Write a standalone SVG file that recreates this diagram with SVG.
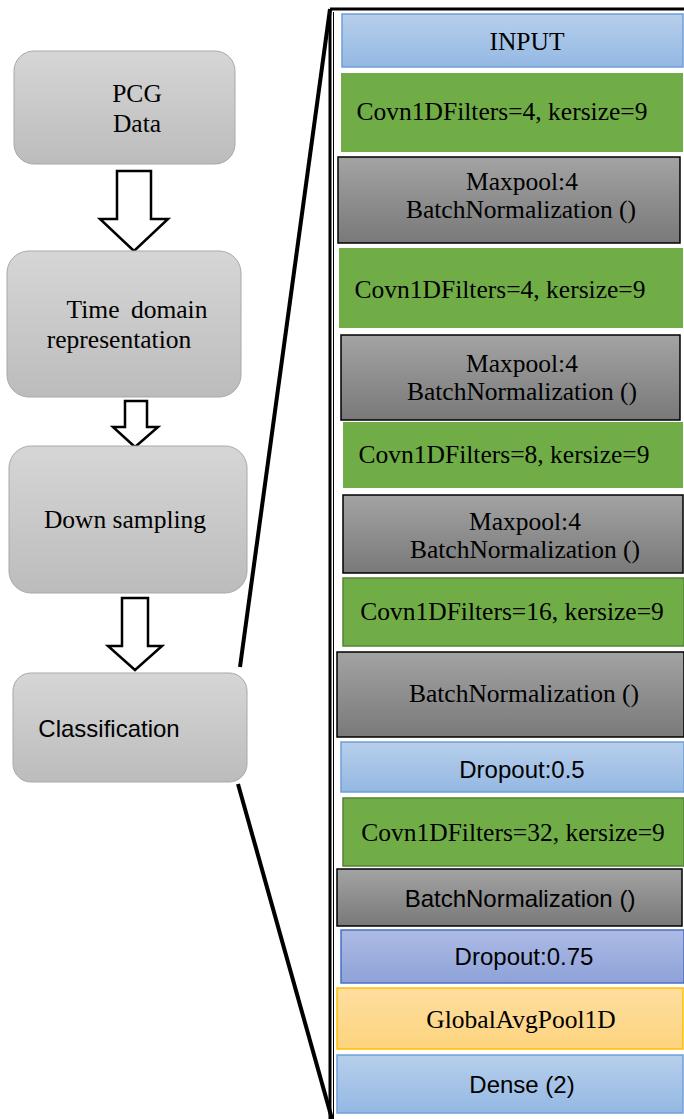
<svg xmlns="http://www.w3.org/2000/svg" width="684" height="1119" viewBox="0 0 684 1119">
<defs>
<linearGradient id="gGray" x1="0" y1="0" x2="0" y2="1"><stop offset="0" stop-color="#d6d6d6"/><stop offset="1" stop-color="#bcbcbc"/></linearGradient>
<linearGradient id="gDark" x1="0" y1="0" x2="0" y2="1"><stop offset="0" stop-color="#a3a3a3"/><stop offset="1" stop-color="#797979"/></linearGradient>
<linearGradient id="gBlue" x1="0" y1="0" x2="0" y2="1"><stop offset="0" stop-color="#b7cfeb"/><stop offset="1" stop-color="#94b8e3"/></linearGradient>
<linearGradient id="gViolet" x1="0" y1="0" x2="0" y2="1"><stop offset="0" stop-color="#adbbe5"/><stop offset="1" stop-color="#8ea2d8"/></linearGradient>
<linearGradient id="gOrange" x1="0" y1="0" x2="0" y2="1"><stop offset="0" stop-color="#fedea0"/><stop offset="1" stop-color="#fdd47e"/></linearGradient>
</defs>
<style>
.lnode{fill:url(#gGray);stroke:#a8a8a8;stroke-width:1}
.arrow{fill:#ffffff;stroke:#000000;stroke-width:2.5;stroke-linejoin:miter}
.serif{font-family:"Liberation Serif","Times New Roman",serif;font-size:25.5px;fill:#000}
.sans{font-family:"Liberation Sans",Arial,sans-serif;font-size:24px;fill:#000}
.green{fill:#70ad47}
.green2{fill:#70ad47;stroke:#548235;stroke-width:1.5}
.gray{fill:url(#gDark);stroke:#000;stroke-width:1.5}
.blue{fill:url(#gBlue);stroke:#6f9fd8;stroke-width:1.5}
.violet{fill:url(#gViolet);stroke:#4472c4;stroke-width:1.5}
.orange{fill:url(#gOrange);stroke:#ffc000;stroke-width:1.5}
.frame{stroke:#000;fill:none}
.c{text-anchor:middle}
</style>
<rect width="684" height="1119" fill="#ffffff"/>

<g id="connectors">
<polygon class="arrow" points="117,171 151,171 151,219 168,219 134,251 100,219 117,219"/>
<polygon class="arrow" points="125,401 147,401 147,427 158,427 135,447 113,427 125,427"/>
<polygon class="arrow" points="122,598 148,598 148,646 162,646 135,670 108,646 122,646"/>
<line class="frame" x1="240" y1="667" x2="330" y2="9" stroke-width="4"/>
<line class="frame" x1="238" y1="784" x2="332" y2="1119" stroke-width="4"/>
<line class="frame" x1="330" y1="9" x2="684" y2="9" stroke-width="3"/>
<line class="frame" x1="330" y1="9" x2="330" y2="1119" stroke-width="3"/>
<line class="frame" x1="333.5" y1="12" x2="333.5" y2="1119" stroke-width="1"/>
</g>

<g id="n-pcg">
<rect class="lnode" x="14" y="51" width="221" height="113" rx="20"/>
<text class="serif c" x="137" y="102">PCG</text>
<text class="serif c" x="137" y="132">Data</text>
</g>
<g id="n-time">
<rect class="lnode" x="7" y="251" width="234" height="146" rx="22"/>
<text class="serif c" x="137" y="318" word-spacing="5">Time domain</text>
<text class="serif c" x="119" y="348">representation</text>
</g>
<g id="n-down">
<rect class="lnode" x="9" y="446" width="238" height="147" rx="22"/>
<text class="serif c" x="125" y="528">Down sampling</text>
</g>
<g id="n-class">
<rect class="lnode" x="13" y="673" width="234" height="109" rx="18"/>
<text class="sans c" x="109" y="737">Classification</text>
</g>

<g id="l-input">
<rect class="blue" x="342" y="14" width="341" height="53"/>
<text class="serif c" x="527" y="50">INPUT</text>
</g>
<g id="l-conv1">
<rect class="green" x="341" y="73" width="342" height="79"/>
<text class="serif c" x="502" y="120">Covn1DFilters=4, kersize=9</text>
</g>
<g id="l-pool1">
<rect class="gray" x="338" y="157" width="342" height="86"/>
<text class="serif c" x="522" y="190">Maxpool:4</text>
<text class="serif c" x="521" y="218">BatchNormalization ()</text>
</g>
<g id="l-conv2">
<rect class="green" x="339" y="248" width="344" height="80"/>
<text class="serif c" x="500" y="298">Covn1DFilters=4, kersize=9</text>
</g>
<g id="l-pool2">
<rect class="gray" x="341" y="335" width="339" height="85"/>
<text class="serif c" x="522" y="372">Maxpool:4</text>
<text class="serif c" x="522" y="400">BatchNormalization ()</text>
</g>
<g id="l-conv3">
<rect class="green" x="343" y="422" width="340" height="66"/>
<text class="serif c" x="504" y="463">Covn1DFilters=8, kersize=9</text>
</g>
<g id="l-pool3">
<rect class="gray" x="343" y="495" width="340" height="78"/>
<text class="serif c" x="525" y="530">Maxpool:4</text>
<text class="serif c" x="525" y="558">BatchNormalization ()</text>
</g>
<g id="l-conv4">
<rect class="green2" x="343" y="578" width="341" height="68"/>
<text class="serif c" x="512" y="620">Covn1DFilters=16, kersize=9</text>
</g>
<g id="l-bn1">
<rect class="gray" x="337" y="652" width="347" height="85"/>
<text class="serif c" x="524" y="702">BatchNormalization ()</text>
</g>
<g id="l-drop1">
<rect class="blue" x="341" y="742" width="343" height="50"/>
<text class="sans c" x="522" y="778">Dropout:0.5</text>
</g>
<g id="l-conv5">
<rect class="green2" x="343" y="798" width="341" height="68"/>
<text class="serif c" x="513" y="841">Covn1DFilters=32, kersize=9</text>
</g>
<g id="l-bn2">
<rect class="gray" x="337" y="869" width="345" height="57"/>
<text class="sans c" x="520" y="907">BatchNormalization ()</text>
</g>
<g id="l-drop2">
<rect class="violet" x="341" y="930" width="343" height="53"/>
<text class="sans c" x="524" y="965">Dropout:0.75</text>
</g>
<g id="l-gap">
<rect class="orange" x="337" y="988" width="346" height="61"/>
<text class="serif c" x="521" y="1028">GlobalAvgPool1D</text>
</g>
<g id="l-dense">
<rect class="blue" x="337" y="1055" width="346" height="58"/>
<text class="sans c" x="522" y="1093">Dense (2)</text>
</g>
</svg>
